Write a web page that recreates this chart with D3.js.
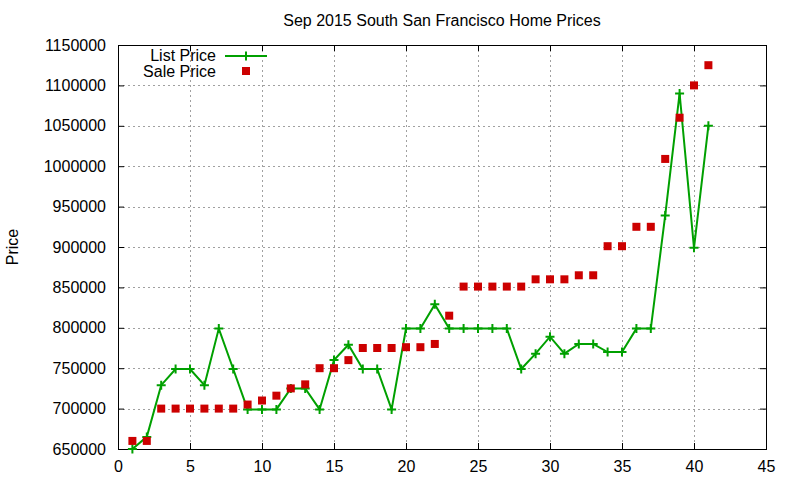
<!DOCTYPE html>
<html>
<head>
<meta charset="utf-8">
<script src="https://cdn.jsdelivr.net/npm/d3@7"></script>
<style>
  body { margin: 0; background: #fff; }
  text { font-family: "Liberation Sans", Arial, sans-serif; fill: #000; }
</style>
</head>
<body>
<svg id="chart" width="800" height="480"></svg>
<script>
/** Chart title and labels */
var title = 'Sep 2015 South San Francisco Home Prices',
    yLabel = 'Price';

/** House index along the x axis */
var houses = d3.range(1, 42);

/** Asking prices */
var listPrice = [650000, 665000, 729000, 749000, 749000, 729000, 799000, 749000, 699000, 699000,
                 699000, 725000, 725000, 699000, 760000, 779000, 749000, 749000, 699000, 799000,
                 799000, 829000, 799000, 799000, 799000, 799000, 799000, 749000, 768000, 789000,
                 768000, 780000, 780000, 770000, 770000, 799000, 799000, 939000, 1090000, 899000,
                 1050000];

/** Sold prices */
var salePrice = [660000, 660000, 700000, 700000, 700000, 700000, 700000, 700000, 705000, 710000,
                 716000, 725000, 730000, 750000, 750000, 760000, 775000, 775000, 775000, 776000,
                 776000, 780000, 815000, 851000, 851000, 851000, 851000, 851000, 860000, 860000,
                 860000, 865000, 865000, 901000, 901000, 925000, 925000, 1009000, 1060000, 1100000,
                 1125000];

/** Tick values */
var xTicks = d3.range(0, 46, 5),
    yTicks = d3.range(650000, 1150001, 50000);

/** Layout */
var margin = {top: 45, right: 34, bottom: 31, left: 118},
    width = 800 - margin.left - margin.right,
    height = 480 - margin.top - margin.bottom;

var listColor = '#00a000',
    saleColor = '#cc0000';

var svg = d3.select('#chart');

var xScale = d3.scaleLinear().domain([0, 45]).range([0, width]);
var yScale = d3.scaleLinear().domain([650000, 1150000]).range([height, 0]);

var g = svg.append('g')
    .attr('transform', 'translate(' + margin.left + ',' + margin.top + ')');

// grid
g.selectAll('.vgrid').data(xTicks.slice(1, -1))
    .enter().append('line')
    .attr('x1', function (d) { return Math.round(xScale(d)) + 0.5; })
    .attr('x2', function (d) { return Math.round(xScale(d)) + 0.5; })
    .attr('y1', 0).attr('y2', height)
    .style('stroke', '#a0a0a0')
    .style('stroke-dasharray', '2,3');

g.selectAll('.hgrid').data(yTicks.slice(1, -1))
    .enter().append('line')
    .attr('y1', function (d) { return Math.round(yScale(d)) + 0.5; })
    .attr('y2', function (d) { return Math.round(yScale(d)) + 0.5; })
    .attr('x1', 0).attr('x2', width)
    .style('stroke', '#a0a0a0')
    .style('stroke-dasharray', '2,3');

// axes, ticks pointing inward, mirrored
var xAxis = d3.axisBottom(xScale).tickValues(xTicks).tickSizeInner(-6).tickSizeOuter(0).tickPadding(12);
var yAxis = d3.axisLeft(yScale).tickValues(yTicks).tickFormat(d3.format('d')).tickSizeInner(-6).tickSizeOuter(0).tickPadding(12);

g.append('g').attr('transform', 'translate(0,' + height + ')').call(xAxis);
g.append('g').call(yAxis);
g.append('g').call(d3.axisTop(xScale).tickValues(xTicks).tickSizeInner(-6).tickSizeOuter(0).tickFormat(''));
g.append('g').attr('transform', 'translate(' + width + ',0)')
    .call(d3.axisRight(yScale).tickValues(yTicks).tickSizeInner(-6).tickSizeOuter(0).tickFormat(''));

g.selectAll('.domain').remove();
g.selectAll('.tick line').style('stroke', '#000');
g.selectAll('.tick text').style('font-size', '16px').style('font-family', '"Liberation Sans", Arial, sans-serif');

g.append('rect')
    .attr('x', 0.5).attr('y', 0.5)
    .attr('width', width).attr('height', height)
    .style('fill', 'none')
    .style('stroke', '#000');

// list price line
var line = d3.line()
    .x(function (d, i) { return xScale(houses[i]); })
    .y(function (d) { return yScale(d); });

g.append('path')
    .datum(listPrice)
    .attr('d', line)
    .style('fill', 'none')
    .style('stroke', listColor)
    .style('stroke-width', 2);

function plus(sel, cx, cy) {
    sel.append('path')
        .attr('d', 'M' + (cx - 4.5) + ',' + cy + 'h9M' + cx + ',' + (cy - 4.5) + 'v9')
        .style('stroke', listColor)
        .style('stroke-width', 2);
}

listPrice.forEach(function (d, i) {
    plus(g, xScale(houses[i]), yScale(d));
});

// sale price squares
g.selectAll('.sale').data(salePrice)
    .enter().append('rect')
    .attr('x', function (d, i) { return xScale(houses[i]) - 4; })
    .attr('y', function (d) { return yScale(d) - 4; })
    .attr('width', 8).attr('height', 8)
    .style('fill', saleColor);

// legend
var legend = svg.append('g');
legend.append('text').attr('x', 216).attr('y', 61).attr('text-anchor', 'end')
    .style('font-size', '16px').text('List Price');
legend.append('line').attr('x1', 225).attr('x2', 267).attr('y1', 56).attr('y2', 56)
    .style('stroke', listColor).style('stroke-width', 2);
plus(legend, 246, 56);
legend.append('text').attr('x', 216).attr('y', 77).attr('text-anchor', 'end')
    .style('font-size', '16px').text('Sale Price');
legend.append('rect').attr('x', 242).attr('y', 67).attr('width', 8).attr('height', 8)
    .style('fill', saleColor);

// title and y label
svg.append('text')
    .attr('x', margin.left + width / 2).attr('y', 26)
    .attr('text-anchor', 'middle')
    .style('font-size', '16px')
    .text(title);

svg.append('text')
    .attr('transform', 'translate(18,247) rotate(-90)')
    .attr('text-anchor', 'middle')
    .style('font-size', '16px')
    .text(yLabel);
</script>
</body>
</html>
